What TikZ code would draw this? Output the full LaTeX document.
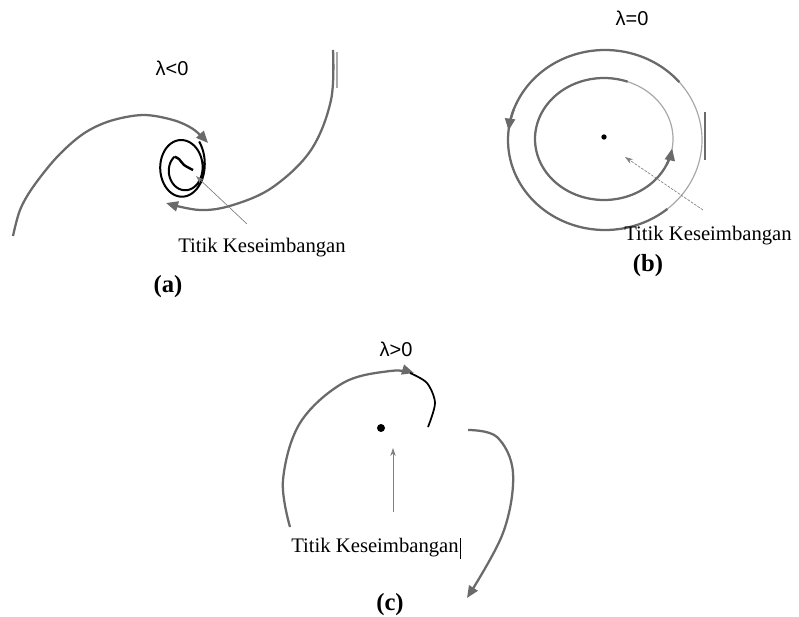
\documentclass[tikz,border=0pt]{standalone}
\usepackage{fontspec}
\setmainfont{Liberation Serif}
\newfontfamily\lamfont{Liberation Sans}
\usetikzlibrary{arrows.meta}
\definecolor{trajc}{HTML}{6A6A6A}
\definecolor{thinc}{HTML}{A8A8A8}
\begin{document}
\begin{tikzpicture}[x=0.75pt,y=-0.75pt,
  traj/.style={draw=trajc, line width=1.7pt},
  thintraj/.style={draw=thinc, line width=0.9pt},
  tipend/.style={-{Triangle[length=9pt,width=7.5pt]}},
  ptr/.style={draw=gray, line width=0.5pt, -{Stealth[length=6pt,width=4pt]}},
  lbl/.style={font=\fontsize{15.5}{18}\selectfont, inner sep=0pt},
  lam/.style={font=\lamfont\fontsize{15}{18}\selectfont, inner sep=0pt},
  tag/.style={font=\bfseries\fontsize{18.5}{21}\selectfont, inner sep=0pt},
  eqdot/.style={fill=black, circle, inner sep=0pt}
]
\useasboundingbox (0,0) rectangle (799,617);

% ---------- (a) ----------
\node[lam] (la) at (172,68) {λ<0};
\draw[traj,tipend] plot[smooth,tension=0.55] coordinates {(13,236) (20,210) (33,187) (57,157) (83,134) (110,121) (143,115) (173,120) (193,129) (208,143)};
\draw[traj,tipend] plot[smooth,tension=0.6] coordinates {(333,50) (331,100) (311,150) (273,187) (233,205) (200,210) (166,203)};
\draw[thintraj] (337,52) -- (337,88);
\draw[black,line width=1.5pt] plot[domain=-40:585,samples=160,smooth] ({180+6*(\x+40)/670+(25-10*(\x+40)/670)*cos(\x)},{164+6*(\x+40)/670+(35-18*(\x+40)/670)*sin(\x)});
\draw[black,line width=1.8pt] plot[smooth] coordinates {(174.5,156.7) (179,159) (184,165) (193,170)};
\coordinate (ea) at (196,176);
\node[lbl] (ta) at (262,248) {Titik Keseimbangan};
\coordinate (pa) at (247,224);
\draw[ptr] (pa) -- (ea);
\node[tag] (ca) at (168,287) {(a)};

% ---------- (b) ----------
\node[lam] (lb) at (632,18) {λ=0};
\draw[thintraj] plot[domain=0:360,samples=120,smooth] ({605+97*cos(\x)},{140-90*sin(\x)});
\draw[traj] plot[domain=40:310,samples=100,smooth] ({605+97*cos(\x)},{140-90*sin(\x)});
\draw[traj,tipend] plot[domain=160:174,samples=6,smooth] ({605+97*cos(\x)},{140-90*sin(\x)});
\draw[thintraj] plot[domain=0:360,samples=120,smooth] ({604+69*cos(\x)},{139-61*sin(\x)});
\draw[traj] plot[domain=70:348,samples=100,smooth] ({604+69*cos(\x)},{139-61*sin(\x)});
\draw[traj,tipend] plot[domain=-25:-9,samples=6,smooth] ({604+69*cos(\x)},{139-61*sin(\x)});
\draw[trajc,line width=1pt] (705,112) -- (705,160);
\node[eqdot, minimum size=4pt] (eb) at (604,137) {};
\coordinate (eb2) at (625,157);
\node[lbl] (tb) at (708,236) {Titik Keseimbangan};
\coordinate (pb) at (703,210);
\draw[ptr, dash pattern=on 2pt off 1pt] (pb) -- (eb2);
\node[tag] (cb) at (648,266) {(b)};

% ---------- (c) ----------
\node[lam] (lc) at (396,349) {λ>0};
\draw[traj,tipend] plot[smooth,tension=0.6] coordinates {(290,527) (283,480) (300,423) (343,383) (390,371) (414,373)};
\draw[black,line width=1.3pt] plot[smooth] coordinates {(410,373) (427,383) (435,403) (428,427)};
\node[eqdot, minimum size=6pt] (ec) at (381,428) {};
\coordinate (ec2) at (393,448);
\node[lbl] (tc) at (375,548) {Titik Keseimbangan};
\draw[black,line width=0.5pt] (tc.east) ++(1.5,-10) -- ++(0,21);
\coordinate (pc) at (393,512);
\draw[ptr] (pc) -- (ec2);
\draw[traj,tipend] plot[smooth,tension=0.6] coordinates {(468,430) (497,437) (513,473) (503,533) (467,598)};
\node[tag] (cc) at (390,605) {(c)};
\end{tikzpicture}
\end{document}
